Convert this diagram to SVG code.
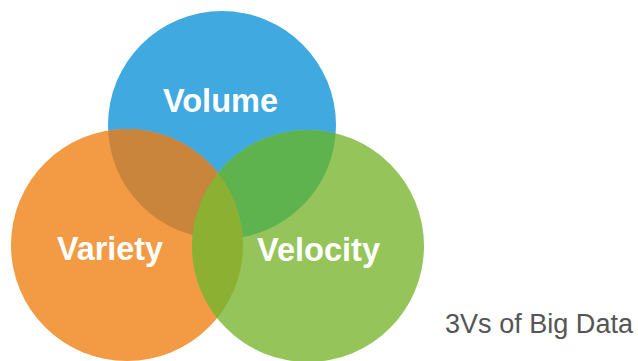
<svg xmlns="http://www.w3.org/2000/svg" width="638" height="361" viewBox="0 0 638 361">
  <style>
    .lbl { font-family: "Liberation Sans", Arial, sans-serif; font-weight: bold; font-size: 33px; fill: #ffffff; }
    .cap { font-family: "Liberation Sans", Arial, sans-serif; font-size: 27px; fill: #555555; }
  </style>
  <defs>
    <clipPath id="cBlue"><circle cx="222" cy="125" r="114"/></clipPath>
    <clipPath id="cOrange"><circle cx="127" cy="245" r="116"/></clipPath>
    <clipPath id="cGreen"><circle cx="308" cy="246" r="116"/></clipPath>
  </defs>
  <rect width="638" height="361" fill="#ffffff"/>
  <g id="volume">
    <circle cx="222" cy="125" r="114" fill="#3FA9E0"/>
  </g>
  <g id="variety">
    <circle cx="127" cy="245" r="116" fill="#F29A44"/>
  </g>
  <g id="velocity">
    <circle cx="308" cy="246" r="116" fill="#95C55A"/>
  </g>
  <g id="overlaps">
    <g clip-path="url(#cBlue)">
      <circle cx="127" cy="245" r="116" fill="#C8853B"/>
      <circle cx="308" cy="246" r="116" fill="#5FB34F"/>
    </g>
    <g clip-path="url(#cOrange)">
      <circle cx="308" cy="246" r="116" fill="#8CB031"/>
    </g>
  </g>
  <g id="labels">
    <text class="lbl" x="163" y="112" textLength="115" lengthAdjust="spacingAndGlyphs">Volume</text>
    <text class="lbl" x="57" y="260" textLength="106" lengthAdjust="spacingAndGlyphs">Variety</text>
    <text class="lbl" x="257" y="261" textLength="123" lengthAdjust="spacingAndGlyphs">Velocity</text>
    <text class="cap" x="445" y="333" textLength="188" lengthAdjust="spacingAndGlyphs">3Vs of Big Data</text>
  </g>
  <g id="connectors"/>
</svg>
